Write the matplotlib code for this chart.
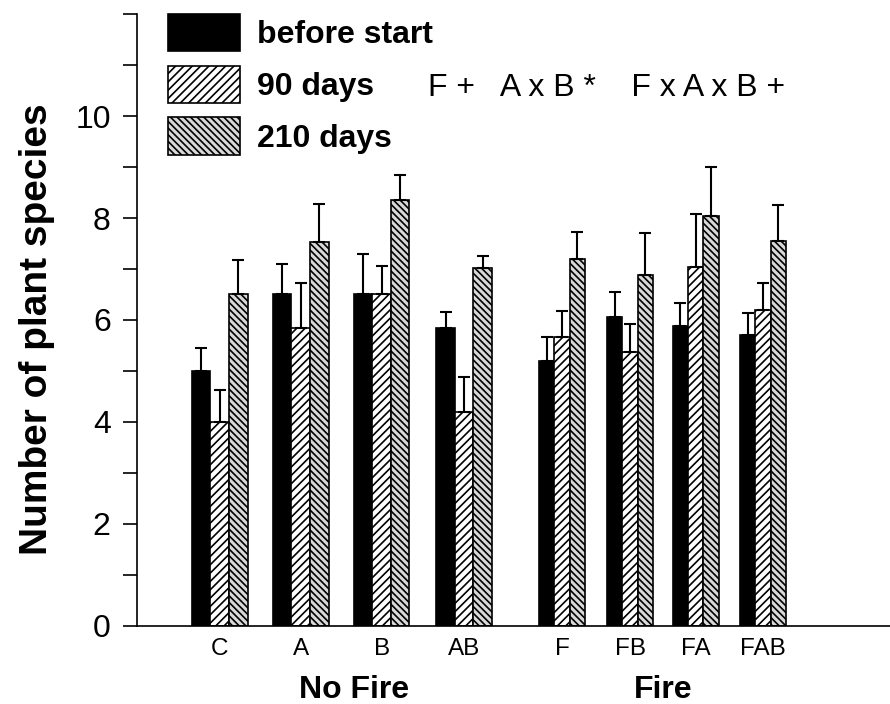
import matplotlib.pyplot as plt
import numpy as np
from matplotlib.patches import Patch
from matplotlib.ticker import MultipleLocator

plt.rcParams["font.family"] = ["Liberation Sans", "DejaVu Sans"]
plt.rcParams["hatch.linewidth"] = 1.2

# Treatments and mean number of plant species
treatments = ["C", "A", "B", "AB", "F", "FB", "FA", "FAB"]
before_start = [5.0, 6.5, 6.5, 5.85, 5.2, 6.05, 5.88, 5.7]
days_90 = [4.0, 5.85, 6.5, 4.2, 5.67, 5.37, 7.04, 6.2]
days_210 = [6.5, 7.53, 8.35, 7.02, 7.2, 6.88, 8.04, 7.55]

# upper error bars
err_before = [0.45, 0.6, 0.8, 0.3, 0.47, 0.49, 0.45, 0.44]
err_90 = [0.62, 0.88, 0.55, 0.68, 0.5, 0.55, 1.04, 0.53]
err_210 = [0.67, 0.74, 0.5, 0.23, 0.52, 0.82, 0.96, 0.7]

series_labels = ["before start", "90 days", "210 days"]
group_labels = ["No Fire", "Fire"]
stats_text = "F +   A x B *    F x A x B +"

# layout: group centres and bar widths (no-fire groups drawn wider)
centers = np.array([1.02, 2.02, 3.02, 4.04, 5.25, 6.09, 6.90, 7.73])
widths = np.array([0.23] * 4 + [0.19] * 4)
group_x = [2.68, 6.5]

styles = [
    dict(facecolor="black", hatch=None),
    dict(facecolor="white", hatch="////"),
    dict(facecolor="#d8d8d8", hatch="\\\\\\\\\\"),
]

fig = plt.figure(figsize=(8.9, 7.04), dpi=100)
ax = fig.add_axes([0.154, 0.111, 0.846, 0.869])

values = [before_start, days_90, days_210]
errors = [err_before, err_90, err_210]
for k, (vals, errs, st) in enumerate(zip(values, errors, styles)):
    x = centers + (k - 1) * widths
    ax.bar(x, vals, width=widths, color=st["facecolor"], hatch=st["hatch"],
           edgecolor="black", linewidth=1.2, zorder=2)
    ax.errorbar(x, vals, yerr=[np.zeros(len(vals)), errs], fmt="none",
                ecolor="black", elinewidth=1.5, capsize=4, capthick=1.5, zorder=3)

ax.set_xlim(0, 9.3)
ax.set_ylim(0, 12)
ax.yaxis.set_minor_locator(MultipleLocator(1))
ax.set_yticks([0, 2, 4, 6, 8, 10])
ax.tick_params(axis="y", which="both", direction="out", length=10, width=1.2,
               labelsize=23, pad=9)
ax.set_xticks(centers)
ax.set_xticklabels(treatments, fontsize=17.5)
ax.tick_params(axis="x", length=0, pad=9)

for side in ["top", "right"]:
    ax.spines[side].set_visible(False)
ax.spines["left"].set_linewidth(1.2)
ax.spines["bottom"].set_linewidth(1.2)

ax.set_ylabel("Number of plant species", fontsize=28, fontweight="bold")
ax.yaxis.set_label_coords(-0.109, 0.485)

# group labels under the treatment names
trans = ax.get_xaxis_transform()
for gx, label in zip(group_x, group_labels):
    ax.text(gx, -0.08, label, transform=trans, ha="center", va="top",
            fontsize=23, fontweight="bold")

# legend
handles = [Patch(facecolor=st["facecolor"], hatch=st["hatch"], edgecolor="black",
                 linewidth=1.2) for st in styles]
ax.legend(handles, series_labels, loc="upper left", bbox_to_anchor=(0.041, 1.0),
          frameon=False, prop={"weight": "bold", "size": 23},
          handlelength=2.25, handleheight=1.42, labelspacing=0.45, handletextpad=0.55,
          borderpad=0.0, borderaxespad=0.0)

ax.text(0.386, 0.879, stats_text, transform=ax.transAxes, ha="left", va="center",
        fontsize=23)

fig.savefig("out.png", dpi=100)
